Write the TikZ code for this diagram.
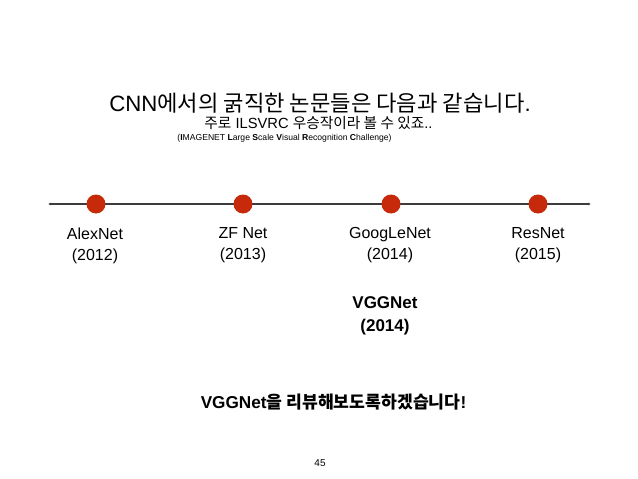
\documentclass[tikz,border=0pt]{standalone}
\usepackage{fontspec}
\setmainfont{Liberation Sans}
\newfontfamily\kr{Noto Sans CJK KR}
\usetikzlibrary{arrows.meta}
\definecolor{dotred}{HTML}{C62A0B}
\definecolor{linegray}{HTML}{3C3C3C}
\begin{document}
\begin{tikzpicture}[x=1pt,y=-1pt,
  dot/.style={circle,fill=dotred,minimum size=19pt,inner sep=0pt},
  lbl/.style={font=\fontsize{16}{21}\selectfont,align=center,inner sep=0pt},
  vlbl/.style={font=\fontsize{17}{23}\selectfont\bfseries,align=center,inner sep=0pt},
  tline/.style={draw=linegray,line width=1.4pt,{Latex[length=3pt,width=3pt]}-{Latex[length=3pt,width=3pt]}},
  txt/.style={inner sep=0pt}]
\useasboundingbox[fill=white] (0,0) rectangle (638,479);
\node[txt,font=\fontsize{22.2}{26}\selectfont] (title) at (320,103) {CNN{\kr 에서의 굵직한 논문들은 다음과 같습니다}.};
\node[txt,font=\fontsize{14.7}{17}\selectfont] (sub) at (318.5,123) {{\kr 주로} ILSVRC {\kr 우승작이라 볼 수 있죠}..};
\node[txt,font=\fontsize{8.6}{10}\selectfont] (ilsvrc) at (284.5,138) {(\textbf{I}MAGENET \textbf{L}arge \textbf{S}cale \textbf{V}isual \textbf{R}ecognition \textbf{C}hallenge)};
\coordinate (L) at (48,204);
\coordinate (R) at (591,204);
\draw[tline] (L) -- (R);
\node[dot] (d1) at (96,204) {};
\node[dot] (d2) at (243,204) {};
\node[dot] (d3) at (391,204) {};
\node[dot] (d4) at (538,204) {};
\node[lbl] (alex) at (95,245.5) {AlexNet\\(2012)};
\node[lbl] (zf) at (243,245.5) {ZF Net\\(2013)};
\node[lbl] (goog) at (390,245.5) {GoogLeNet\\(2014)};
\node[lbl] (res) at (538,245.5) {ResNet\\(2015)};
\node[vlbl] (vgg) at (385,315.5) {VGGNet\\(2014)};
\node[txt,font=\fontsize{17.2}{20}\selectfont\bfseries] (review) at (333.5,402) {VGGNet{\kr 을 리뷰해보도록하겠습니다}!};
\node[txt,font=\fontsize{10}{12}\selectfont] (page) at (320,463) {45};
\end{tikzpicture}
\end{document}
